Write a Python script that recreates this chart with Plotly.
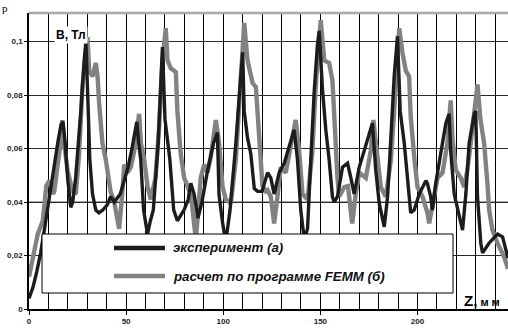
import plotly.graph_objects as go

# Experiment (black)
z_exp = [0, 2, 4, 6, 8, 10, 11.5, 13, 15, 16.5, 17.5, 18.5, 20, 21.5, 22.5, 24, 25.5, 26.7, 28.4, 29.3,
         30.5, 31.3, 32.7, 34.4, 36, 38, 40.4, 42, 43.9, 45, 47, 49, 51, 53, 55.5, 56.5, 57.5, 59, 61, 62.5,
         64, 66.5, 68, 68.7, 70, 72.5, 74.5, 76.4, 79.8, 82, 83.3, 85, 87, 89, 92, 95, 97, 97.8, 99.5, 101.3,
         103.5, 106.5, 109, 110, 110.8, 112.5, 114.2, 116, 117.7, 120, 122.8, 124.5, 126.2, 128.8, 131.4, 133.9, 136.5, 138.2, 139.9, 141.7,
         143.4, 145.1, 146.8, 148.5, 149.4, 151.1, 152.8, 154.5, 156.2, 157.1, 158.8, 161.4, 164, 165.7, 167.4, 170, 172.6, 175.1, 176.8, 178.5,
         180.3, 182.9, 184.6, 186.3, 188, 189.7, 191.1, 193.2, 194.9, 196.5, 198.3, 200.9, 204.3, 205.1, 206.8, 207.7, 209.4, 212, 214.6, 216.3,
         217.1, 218.9, 221.5, 223.2, 224.9, 226.6, 229.2, 230, 230.9, 232.6, 233.5, 236.9, 241.2, 243.8, 246.6]
b_exp = [0.004, 0.008, 0.014, 0.021, 0.030, 0.040, 0.047, 0.055, 0.063, 0.069, 0.070, 0.063, 0.048, 0.038, 0.040, 0.049, 0.062, 0.074, 0.093, 0.100,
         0.074, 0.056, 0.043, 0.037, 0.036, 0.037, 0.039, 0.042, 0.040, 0.041, 0.043, 0.048, 0.053, 0.060, 0.070, 0.062, 0.056, 0.037, 0.028, 0.033,
         0.037, 0.062, 0.087, 0.098, 0.071, 0.056, 0.037, 0.033, 0.037, 0.041, 0.047, 0.043, 0.034, 0.040, 0.052, 0.062, 0.066, 0.043, 0.033, 0.025,
         0.037, 0.062, 0.087, 0.096, 0.074, 0.064, 0.058, 0.045, 0.044, 0.044, 0.051, 0.049, 0.043, 0.051, 0.0545, 0.0606, 0.067, 0.056, 0.037, 0.026,
         0.030, 0.056, 0.081, 0.099, 0.104, 0.082, 0.067, 0.056, 0.042, 0.040, 0.042, 0.053, 0.0545, 0.049, 0.043, 0.053, 0.0594, 0.0658, 0.0695, 0.052,
         0.0396, 0.0307, 0.042, 0.064, 0.087, 0.102, 0.074, 0.062, 0.049, 0.036, 0.037, 0.043, 0.048, 0.047, 0.042, 0.037, 0.047, 0.058, 0.0695, 0.073,
         0.059, 0.043, 0.034, 0.0295, 0.043, 0.062, 0.073, 0.074, 0.042, 0.0246, 0.021, 0.0247, 0.028, 0.027, 0.0190]

# FEMM calculation (gray)
z_femm = [0, 4.5, 7.1, 8.9, 10.5, 12.3, 13, 14.7, 16.4, 17.2, 18.1, 19.8, 22.4, 24.1, 25.8, 27.5, 30.1, 31, 32.7, 34.4,
          35.3, 36.1, 37.8, 39.5, 41.3, 42, 43.9, 46.4, 48.1, 49, 50.7, 52.4, 54.2, 56.7, 57.6, 59.3, 61, 62.7, 65.1, 67,
          68.7, 70.4, 71.3, 73, 75.6, 76.4, 78.1, 79.9, 81.6, 83.5, 85.9, 88.4, 90.2, 91.9, 93.6, 96.2, 97.9, 99.6, 101.3, 103.9,
          106.5, 108.2, 109.9, 110.8, 112.5, 115.1, 116.8, 117.6, 118.5, 120.2, 121.9, 122.8, 124.5, 126.2, 127.9, 129.6, 132.2, 134.8, 137.3, 139.1,
          140.8, 143.4, 145.9, 147.6, 150.2, 152, 154.5, 156.2, 157.1, 158.8, 159.7, 162.3, 164.2, 166.4, 168.2, 170, 173.4, 176, 177.3, 179.4,
          181.1, 183.7, 186.3, 188, 189.7, 190.6, 192.3, 194, 195.7, 196.5, 198.3, 200, 202.6, 205.1, 206, 208.6, 210.3, 212.9, 215.4, 217.1,
          218, 219.7, 222.3, 224, 225.7, 227.4, 229.2, 230.9, 232.4, 234.3, 236, 236.9, 238.6, 241.2, 244.6, 246.6]
b_femm = [0.012, 0.028, 0.033, 0.046, 0.048, 0.043, 0.044, 0.053, 0.063, 0.0706, 0.062, 0.052, 0.044, 0.043, 0.058, 0.083, 0.1017, 0.089, 0.087, 0.092,
          0.087, 0.077, 0.062, 0.056, 0.048, 0.044, 0.040, 0.030, 0.044, 0.054, 0.051, 0.053, 0.059, 0.073, 0.062, 0.056, 0.046, 0.041, 0.049, 0.068,
          0.093, 0.105, 0.093, 0.090, 0.0886, 0.074, 0.058, 0.049, 0.046, 0.042, 0.026, 0.049, 0.054, 0.051, 0.057, 0.0707, 0.062, 0.046, 0.041, 0.0395,
          0.056, 0.074, 0.097, 0.107, 0.093, 0.0845, 0.083, 0.074, 0.062, 0.046, 0.044, 0.0445, 0.042, 0.032, 0.042, 0.053, 0.051, 0.062, 0.0707, 0.059,
          0.043, 0.041, 0.059, 0.083, 0.108, 0.093, 0.092, 0.0856, 0.0707, 0.049, 0.042, 0.0456, 0.046, 0.032, 0.043, 0.051, 0.049, 0.0594, 0.0707, 0.057,
          0.0456, 0.042, 0.0557, 0.074, 0.099, 0.105, 0.0957, 0.089, 0.087, 0.072, 0.057, 0.0456, 0.042, 0.036, 0.032, 0.042, 0.049, 0.051, 0.062, 0.078,
          0.064, 0.052, 0.049, 0.0456, 0.052, 0.062, 0.074, 0.084, 0.071, 0.062, 0.047, 0.037, 0.0295, 0.0246, 0.0195, 0.0150]

x_ticks = [0, 50, 100, 150, 200]
x_tick_labels = ["0", "50", "100", "150", "200"]
y_ticks = [0, 0.02, 0.04, 0.06, 0.08, 0.1]
y_tick_labels = ["0", "0,02", "0,04", "0,06", "0,08", "0,1"]
series_names = ["эксперимент (а)", "расчет по программе FEMM (б)"]

FONT = "Liberation Sans, Arial, sans-serif"
X_MAX = 246.6
Y_MAX = 0.1107
L, T, B = 29, 13, 20
PW, PH = 508 - L, 329 - T - B


def px_x(p):
    return (p - L) / PW


def px_y(p):
    return (329 - B - p) / PH


fig = go.Figure()
fig.add_trace(go.Scatter(x=z_femm, y=b_femm, mode="lines", name=series_names[1],
                         line=dict(color="#828282", width=4.4), showlegend=False))
fig.add_trace(go.Scatter(x=z_exp, y=b_exp, mode="lines", name=series_names[0],
                         line=dict(color="#1c1c1c", width=3.4), showlegend=False))

# 0,04 grid line drawn in grey on top of the black grid
fig.add_shape(type="line", xref="paper", yref="y", x0=0, x1=1, y0=y_ticks[2], y1=y_ticks[2],
              line=dict(color="#8a8a8a", width=1.8), layer="below")

# top border (grey)
fig.add_shape(type="line", xref="paper", yref="paper", x0=0, x1=1, y0=1, y1=1,
              line=dict(color="#a8a8a8", width=2.5), layer="above")

# legend box
fig.add_shape(type="rect", xref="paper", yref="paper",
              x0=px_x(42), x1=px_x(453), y0=px_y(293), y1=px_y(234),
              line=dict(color="#000000", width=1), fillcolor="white", layer="above")
for yy, col in [(248, "#1c1c1c"), (276, "#828282")]:
    fig.add_shape(type="line", xref="paper", yref="paper",
                  x0=px_x(114), x1=px_x(165), y0=px_y(yy), y1=px_y(yy),
                  line=dict(color=col, width=4.5), layer="above")
for yy, txt in [(248, series_names[0]), (276, series_names[1])]:
    fig.add_annotation(xref="paper", yref="paper", x=px_x(171), y=px_y(yy),
                       xanchor="left", yanchor="middle", showarrow=False,
                       text="<b><i>" + txt + "</i></b>",
                       font=dict(family=FONT, size=13.3, color="#111111"))

# axis labels
fig.add_annotation(xref="paper", yref="paper", x=px_x(54), y=px_y(35),
                   xanchor="left", yanchor="middle", showarrow=False,
                   text="<b>B, Тл</b>", font=dict(family=FONT, size=12, color="#000"),
                   bgcolor="white")
fig.add_annotation(xref="paper", yref="paper", x=px_x(462), y=px_y(300),
                   xanchor="left", yanchor="middle", showarrow=False,
                   text="<b><span style='font-size:15px'>Z,</span> м м</b>",
                   font=dict(family=FONT, size=11, color="#000"))
# partially visible 250 tick label
fig.add_annotation(xref="x", yref="paper", x=250, y=px_y(323),
                   xanchor="center", yanchor="middle", showarrow=False,
                   text="<b>250</b>", font=dict(family=FONT, size=8, color="#222"))
# letter fragment at the top-left corner of the scan
fig.add_annotation(xref="paper", yref="paper", x=px_x(0), y=px_y(0),
                   xanchor="left", yanchor="top", showarrow=False,
                   text="р", font=dict(family="Liberation Serif, serif", size=11, color="#000"))

fig.update_layout(
    width=508, height=329,
    margin=dict(l=L, r=0, t=T, b=B, pad=0, autoexpand=False),
    paper_bgcolor="white", plot_bgcolor="white",
    showlegend=False,
    xaxis=dict(range=[0, X_MAX], tickvals=x_ticks, ticktext=["<b>" + t + "</b>" for t in x_tick_labels],
               showline=True, linecolor="black", linewidth=1.5,
               ticks="outside", ticklen=4, tickcolor="black",
               showgrid=True, gridcolor="black", gridwidth=1,
               minor=dict(dtick=10, tick0=0, showgrid=True, gridcolor="black", gridwidth=1),
               zeroline=False,
               tickfont=dict(family=FONT, size=8, color="#222")),
    yaxis=dict(range=[0, Y_MAX], tickvals=y_ticks, ticktext=["<b>" + t + "</b>" for t in y_tick_labels],
               showline=True, linecolor="black", linewidth=1.5,
               ticks="outside", ticklen=3, tickcolor="black",
               showgrid=True, gridcolor="#2a2a2a", gridwidth=1, zeroline=False,
               tickfont=dict(family=FONT, size=8, color="#222")),
)

fig.write_html("out.html", config={"displayModeBar": False},
               post_script="document.body.style.margin='0px';")
